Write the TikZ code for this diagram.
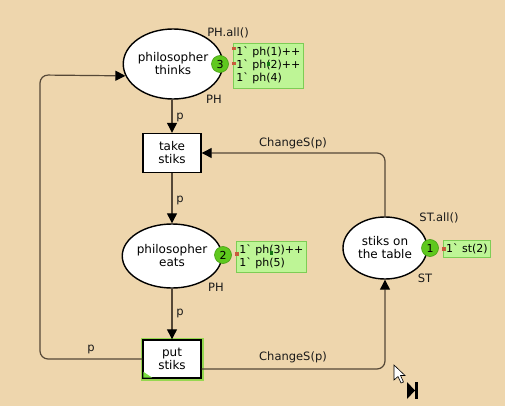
\documentclass[tikz,border=0pt]{standalone}
\usepackage{fontspec}
\setmainfont{DejaVu Sans}
\usetikzlibrary{shapes.geometric,arrows.meta}
\definecolor{bg}{RGB}{238,214,173}
\definecolor{arcc}{RGB}{85,72,55}
\definecolor{mfill}{RGB}{190,245,150}
\definecolor{mdraw}{RGB}{125,205,85}
\definecolor{tokfill}{RGB}{95,200,30}
\definecolor{tokdraw}{RGB}{70,160,20}
\definecolor{glow}{RGB}{150,215,80}
\definecolor{mred}{RGB}{200,90,60}
\definecolor{mdark}{RGB}{20,120,20}
\tikzset{
  place/.style={ellipse, draw=black, line width=1.4pt, fill=white, align=center, inner sep=0pt, font=\fontsize{12}{13}\selectfont},
  trans/.style={rectangle, draw=black, line width=1.4pt, fill=white, align=center, minimum width=58pt, minimum height=39pt, inner sep=0pt, font=\fontsize{12}{13}\selectfont},
  arc/.style={draw=arcc, line width=1.2pt, -{Triangle[length=10pt,width=10pt,color=black]}},
  lbl/.style={font=\fontsize{11.5}{13}\selectfont, text=black!90, inner sep=0pt},
  token/.style={circle, fill=tokfill, draw=tokdraw, line width=0.6pt, minimum size=17pt, inner sep=0pt, font=\fontsize{11}{12}\selectfont},
  marking/.style={rectangle, fill=mfill, draw=mdraw, line width=0.8pt, anchor=west, align=left, inner sep=0pt, font=\fontsize{11}{13}\selectfont},
}
\newcommand{\bq}{1\textasciigrave\ }
\begin{document}
\begin{tikzpicture}[x=1pt,y=-1pt]
\useasboundingbox (0,0) rectangle (505,406);
\fill[bg] (0,0) rectangle (505,406);

% places
\node[place, minimum width=92pt, minimum height=70pt] (think) at (173,64) {philosopher\\thinks};
\node[place, minimum width=95pt, minimum height=64pt] (eats) at (172,256) {philosopher\\eats};
\node[place, minimum width=84pt, minimum height=62pt] (stiks) at (385,248) {stiks on\\the table};

% transitions
\node[trans] (take) at (172,153) {take\\stiks};
\node[trans, minimum height=38pt, preaction={draw=glow, line width=5pt}] (put) at (172,359) {put\\stiks};
\fill[glow!80!green] (put.south west) ++(1,-1) -- ++(9,0) -- ++(-9,-6) -- cycle;

% arcs
\draw[arc] (think.south -| take) -- (take.north);
\draw[arc] (take) -- (eats);
\draw[arc] (eats) -- (put);
\draw[arc, rounded corners=8pt] (put.west) -| (40,75) -- (think.194);
\draw[arc, rounded corners=8pt] ([yshift=-10pt]put.east) -| (stiks.south);
\draw[arc, rounded corners=8pt] (stiks.north) |- (take.east);

% arc labels
\node[lbl] (l1) at (180,117) {p};
\node[lbl] (l2) at (180,200) {p};
\node[lbl] (l3) at (180,313) {p};
\node[lbl] (l4) at (91,349) {p};
\node[lbl] (l5) at (293,143) {ChangeS(p)};
\node[lbl] (l6) at (293,357) {ChangeS(p)};

% place inscriptions
\node[lbl] (i1) at (228,33) {PH.all()};
\node[lbl] (i2) at (214,99) {PH};
\node[lbl] (i3) at (216,287) {PH};
\node[lbl] (i4) at (439,218) {ST.all()};
\node[lbl] (i5) at (425,278) {ST};

% markings
\node[marking, minimum width=70pt, minimum height=45pt] (m1) at (233,65.5) {\bq ph(1)++\\\bq ph(2)++\\\bq ph(4)};
\node[marking, minimum width=70pt, minimum height=31pt] (m2) at (236,256.5) {\bq ph(3)++\\\bq ph(5)};
\node[marking, minimum width=47pt, minimum height=17pt] (m3) at (443,248.5) {\bq st(2)};
\fill[mred] (232,47.5) rectangle (236,50.5);
\fill[mred] (232,62.5) rectangle (236,65.5);
\fill[mdark] (267,62) rectangle (270,66);
\fill[mred] (235,252) rectangle (239,256);
\fill[mdark] (270,251) rectangle (273,255);
\fill[mred] (442,247) rectangle (446,251);

% tokens
\node[token] (t1) at (220,64) {3};
\node[token] (t2) at (223,255) {2};
\node[token] (t3) at (430,248) {1};

% cursor and icon
\filldraw[fill=white, draw=black, line width=0.6pt] (394,365) -- (394,380) -- (398,376.5) -- (401,383) -- (403.5,382) -- (400.5,375.5) -- (405,375.5) -- cycle;
\fill[black] (407,382) -- (407,399) -- (415,390.5) -- cycle;
\fill[black] (415,382) rectangle (418,399);
\end{tikzpicture}
\end{document}
